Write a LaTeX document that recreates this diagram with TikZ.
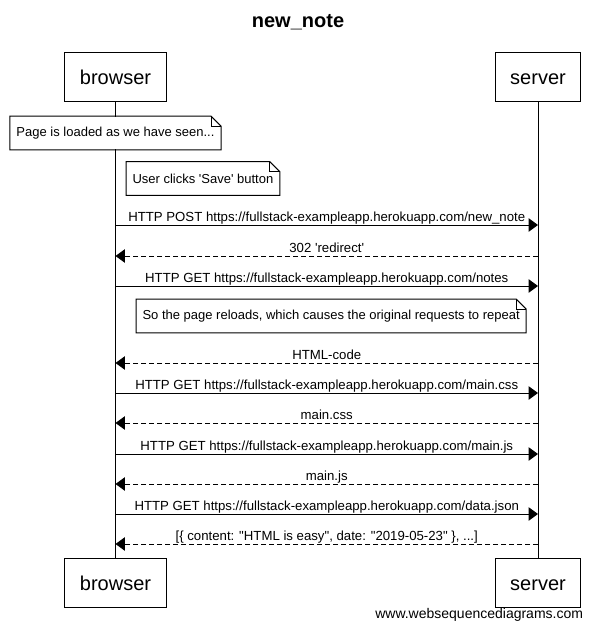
\documentclass[tikz,border=0pt]{standalone}
\usepackage[no-config]{fontspec}
\setmainfont{Liberation Sans}
\usetikzlibrary{arrows.meta}
\tikzset{
  every picture/.style={
    line width=0.75pt,
    >={Triangle[length=7pt, width=10pt]}
  },
  actor/.style={
    draw, fill=white, inner xsep=11.25pt, inner ysep=0pt,
    text height=14pt, text depth=2.75pt,
    minimum height=36.75pt, font=\fontsize{15}{18}\selectfont
  },
  note/.style={
    fill=white, inner xsep=4.5pt, inner ysep=0pt,
    minimum height=24.5pt, font=\fontsize{9.75}{12}\selectfont
  },
  call/.style={->},
  reply/.style={->, dash pattern=on 3.75pt off 2.25pt},
  msg/.style={midway, anchor=base, yshift=2.5pt, inner sep=0pt,
    font=\fontsize{9.9}{12}\selectfont}
}
% folded corner round a note node
\newcommand\notefold[1]{
  \draw (#1.north west) -- ([xshift=-7.5pt]#1.north east)
    -- ([yshift=-7.5pt]#1.north east) -- (#1.south east)
    -- (#1.south west) -- cycle;
  \draw ([xshift=-7.5pt]#1.north east) |- ([yshift=-7.5pt]#1.north east);
}
\begin{document}
\begin{tikzpicture}[x=0.75pt, y=-0.75pt]
  \useasboundingbox (0,0) rectangle (596,631);
  \node[font=\fontsize{15}{18}\selectfont\bfseries] (title) at (298,22) {new\_note};

  \node[actor] (bt) at (115.5,77.5) {browser};
  \node[actor] (st) at (538,77.5) {server};
  \node[actor] (bb) at (115.5,582.5) {browser};
  \node[actor] (sb) at (538,582.5) {server};
  \draw (bt) -- (bb);
  \draw (st) -- (sb);

  \foreach \i/\y in {1/225,2/256,3/286,4/363,5/393,6/423,7/454,8/484,9/514,10/544}{
    \coordinate (b\i) at (bt.south |- 0,\y);
    \coordinate (s\i) at (st.south |- 0,\y);
  }

  \node[note] (n1) at (115.5,133) {Page is loaded as we have seen...};
  \notefold{n1}
  \node[note, anchor=west] (n2) at (126,178.5) {User clicks 'Save' button};
  \notefold{n2}

  \draw[call] (b1) -- (s1) node[msg] {HTTP POST https://fullstack-exampleapp.herokuapp.com/new\_note};
  \draw[reply] (s2) -- (b2) node[msg] {302 'redirect'};
  \draw[call] (b3) -- (s3) node[msg] {HTTP GET https://fullstack-exampleapp.herokuapp.com/notes};

  \node[note, anchor=west] (n3) at (136,316) {So the page reloads, which causes the original requests to repeat};
  \notefold{n3}

  \draw[reply] (s4) -- (b4) node[msg] {HTML-code};
  \draw[call] (b5) -- (s5) node[msg] {HTTP GET https://fullstack-exampleapp.herokuapp.com/main.css};
  \draw[reply] (s6) -- (b6) node[msg] {main.css};
  \draw[call] (b7) -- (s7) node[msg] {HTTP GET https://fullstack-exampleapp.herokuapp.com/main.js};
  \draw[reply] (s8) -- (b8) node[msg] {main.js};
  \draw[call] (b9) -- (s9) node[msg] {HTTP GET https://fullstack-exampleapp.herokuapp.com/data.json};
  \draw[reply] (s10) -- (b10) node[msg] {[\{ content: "HTML is easy", date: "2019-05-23" \}, ...]};

  \node[anchor=east, font=\fontsize{10.5}{12}\selectfont] (site) at (588,615) {www.websequencediagrams.com};
\end{tikzpicture}
\end{document}
